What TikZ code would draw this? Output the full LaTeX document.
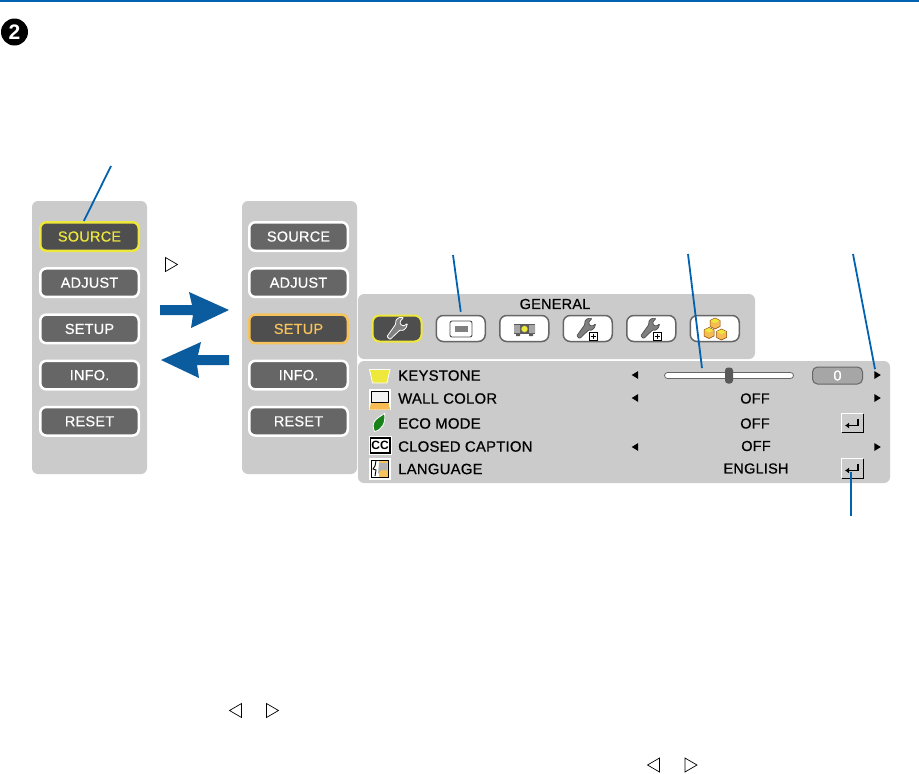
\documentclass[tikz,border=0pt]{standalone}
\usepackage{fontspec}
\setmainfont{Liberation Sans}
\newfontfamily\osdfont{Liberation Sans}[UprightFeatures={FakeBold=0.6},LetterSpace=1.5]
\usetikzlibrary{arrows.meta,positioning,shapes.geometric}
\definecolor{rule}{HTML}{0062B0}
\definecolor{bigarrow}{HTML}{0A5C9E}
\definecolor{panel}{HTML}{CBCBCB}
\definecolor{btn}{HTML}{666666}
\definecolor{btnact}{HTML}{4E4E4E}
\definecolor{hiyellow}{HTML}{EFE83C}
\definecolor{hiorange}{HTML}{F5C25C}

\begin{document}
\begin{tikzpicture}[
        x=1pt, y=-1pt,
        every node/.style={font=\fontsize{14.5}{16}\selectfont\osdfont},
        backplate/.style={fill=panel, rounded corners=6pt},
        menubtn/.style={draw=white, line width=2.5pt, fill=btn, text=white, rounded corners=6pt,
                      minimum width=98.5pt, minimum height=28.5pt, inner sep=0pt},
        tabbtn/.style={draw=btn, line width=1.5pt, fill=white, rounded corners=7pt,
                      minimum width=49pt, minimum height=26pt, inner sep=0pt},
        rowlabel/.style={anchor=west, inner sep=0pt, text=black, font=\fontsize{14.9}{16}\selectfont\osdfont},
        rowvalue/.style={inner sep=0pt, text=black},
        leader/.style={rule, line width=1.8pt},
        blockarr/.style={fill=bigarrow},
        hinttri/.style={isosceles triangle, isosceles triangle apex angle=65, isosceles triangle stretches,
                      draw=black, line width=0.7pt, fill=white, inner sep=0pt, minimum width=14pt, minimum height=12pt},
        stepr/.style={isosceles triangle, isosceles triangle apex angle=70, isosceles triangle stretches,
                      fill=black, inner sep=0pt, minimum width=8pt, minimum height=6.5pt},
        stepl/.style={stepr, shape border rotate=180},
        enterbtn/.style={fill=panel, minimum width=21pt, minimum height=18pt, inner sep=0pt},
        pics/wrench/.style={code={
            \path[pic actions, rounded corners=0.8pt] (-10,8) -- (-7,11) -- (3,1.5) -- (6,2) -- (9,-0.5)
                -- (10.5,-5) -- (6.5,-2.5) -- (3.5,-4) -- (3,-7) -- (6.5,-11) -- (2,-11)
                -- (-1,-8.5) -- (-1.5,-4) -- cycle;
        }},
        pics/cube/.style={code={
            \fill[draw=black!45!orange, line width=0.5pt, fill=hiorange!90!orange]
                (0,-5.5) -- (5,-3) -- (5,3) -- (0,5.5) -- (-5,3) -- (-5,-3) -- cycle;
            \fill[hiyellow] (0,-5) -- (4.5,-2.8) -- (0,-0.3) -- (-4.5,-2.8) -- cycle;
        }},
        pics/addbox/.style={code={
            \draw[black, fill=white, line width=0.8pt] (-4,-4) rectangle (4,4);
            \draw[black, line width=0.7pt] (-2.5,0) -- (2.5,0) (0,-2.5) -- (0,2.5);
        }}
    ]
        \useasboundingbox (0,0) rectangle (919,774);
        \fill[rule] (0,0) rectangle (919,2);

        \node[circle, fill=black, text=white, minimum size=27pt, inner sep=0pt,
              font=\fontsize{21}{21}\selectfont\bfseries] (badge) at (14.5,32) {2};

        % the two column menus
        \fill[backplate] (32,201) rectangle (147,474);
        \fill[backplate] (242,201) rectangle (357,474);

        \node[menubtn, draw=hiyellow, fill=btnact, text=hiyellow] (srcL) at (89.5,236.5) {SOURCE};
        \node[menubtn, below=15.2pt of srcL] (adjL) {ADJUST};
        \node[menubtn, below=15.2pt of adjL] (setL) {SETUP};
        \node[menubtn, below=15.2pt of setL] (infoL) {INFO.};
        \node[menubtn, below=15.2pt of infoL] (resetL) {RESET};

        \node[menubtn] (srcR) at (298.5,236.5) {SOURCE};
        \node[menubtn, below=15.2pt of srcR] (adjR) {ADJUST};
        \node[menubtn, draw=hiorange, fill=btnact, text=hiorange, below=15.2pt of adjR] (setR) {SETUP};
        \node[menubtn, below=15.2pt of setR] (infoR) {INFO.};
        \node[menubtn, below=15.2pt of infoR] (resetR) {RESET};

        % block arrows
        \fill[blockarr] (160,305) -- (192,305) -- (189,292) -- (229,310) -- (191,328) -- (193,315) -- (160,315) -- cycle;
        \fill[blockarr] (229,355) -- (198,355) -- (201,342) -- (161,360) -- (199,378) -- (197,365) -- (229,365) -- cycle;

        % tab strip
        \fill[backplate] (358,294) rectangle (755,359);
        \node[inner sep=0pt, text=black] (general) at (555,304) {GENERAL};
        \node[tabbtn, draw=hiyellow, fill=btnact, line width=2pt] (tabA) at (397,328.5) {};
        \node[tabbtn, right=13pt of tabA] (tabB) {};
        \node[tabbtn, right=13pt of tabB] (tabC) {};
        \node[tabbtn, right=13pt of tabC] (tabD) {};
        \node[tabbtn, right=13pt of tabD] (tabE) {};
        \node[tabbtn, right=13pt of tabE] (tabF) {};

        \pic[fill=gray, draw=white, line width=0.8pt] at (397,328.5) {wrench};
        \draw[black!70, fill=white, line width=0.9pt, rounded corners=2pt] (450,321) rectangle (472,337);
        \fill[gray] (455,326) rectangle (468,332);
        \fill[black!65] (514,324) rectangle (535,334);
        \fill[black!65] (516,334) rectangle (520,336) (529,334) rectangle (533,336);
        \fill[gray!70] (514,325) rectangle (520,333) (529,325) rectangle (535,333);
        \draw[black!60, fill=hiyellow, line width=0.5pt] (524.5,329) circle (3.5);
        \pic[scale=0.92, fill=gray, draw=black!70, line width=0.7pt] at (586,328.5) {wrench};
        \pic at (593,336) {addbox};
        \pic[scale=0.92, fill=gray, draw=black!70, line width=0.7pt] at (650,328.5) {wrench};
        \pic at (657,336) {addbox};
        \pic at (715,323.5) {cube};
        \pic at (709,333) {cube};
        \pic at (721.5,334.5) {cube};

        % settings list
        \fill[backplate] (358,361) rectangle (890,483);
        \node[rowlabel] (kst) at (398,375.5) {KEYSTONE};
        \node[rowlabel] (wall) at (398,398.5) {WALL COLOR};
        \node[rowlabel] (eco) at (398,423.5) {ECO MODE};
        \node[rowlabel] (cap) at (398,446.5) {CLOSED CAPTION};
        \node[rowlabel] (lang) at (398,469) {LANGUAGE};

        \node[rowvalue] (wallv) at (755,398.5) {OFF};
        \node[rowvalue] (ecov) at (755,423.5) {OFF};
        \node[rowvalue] (capv) at (756,446) {OFF};
        \node[rowvalue] (langv) at (756,468.5) {ENGLISH};

        \node[stepl] (kstL) at (636,375) {};
        \node[stepl] (wallL) at (636,398) {};
        \node[stepl] (capL) at (636,447) {};
        \node[stepr] (kstR) at (876.5,375) {};
        \node[stepr] (wallR) at (876.5,398) {};
        \node[stepr] (capR) at (876.5,447) {};

        % slider and its value
        \node[draw=black!60, fill=white, line width=0.8pt, rounded corners=3pt, inner sep=0pt,
              minimum width=129pt, minimum height=6pt] (slider) at (729,375.5) {};
        \node[fill=black!65, rounded corners=3pt, inner sep=0pt,
              minimum width=8pt, minimum height=16pt] (knob) at (729,375.5) {};
        \node[draw=black!60, fill=black!35, text=white, line width=1pt, rounded corners=5pt, inner sep=0pt,
              minimum width=50pt, minimum height=17pt] (kstv) at (837.5,375.5) {0};

        % enter keys
        \node[enterbtn] (enterA) at (852.5,423) {};
        \node[enterbtn, minimum height=19pt] (enterB) at (852.5,468.5) {};
        \draw[white, line width=1pt] (enterA.south west) -- (enterA.north west) -- (enterA.north east);
        \draw[black, line width=1pt] (enterA.north east) -- (enterA.south east) -- (enterA.south west);
        \draw[white, line width=1pt] (enterB.south west) -- (enterB.north west) -- (enterB.north east);
        \draw[black, line width=1pt] (enterB.north east) -- (enterB.south east) -- (enterB.south west);
        \draw[black, line width=1.4pt, -{Latex[length=4pt,width=6pt]}] (858,419) -- (858,425.5) -- (845,425.5);
        \draw[black, line width=1.4pt, -{Latex[length=4pt,width=6pt]}] (858,464) -- (858,470.5) -- (845,470.5);

        % row icons
        \draw[white, fill=hiyellow, line width=0.8pt] (369.5,369.5) -- (390,369.5) -- (387,383) -- (372.5,383) -- cycle;

        \fill[white] (369,389) rectangle (390.5,410);
        \draw[black, fill=white!95!black, line width=0.9pt] (371,391) rectangle (388.5,402.5);
        \fill[hiorange!90!orange] (371,403) -- (388.5,403) -- (390,409.5) -- (369.5,409.5) -- cycle;

        \draw[white, fill=green!45!black!90, line width=0.8pt] (374.5,431.5) .. controls (370,421) and (378,418) .. (384.5,413.5)
            .. controls (386,423) and (382,430) .. cycle;

        \node[draw=white, fill=black, minimum width=22pt, minimum height=18pt, inner sep=0pt, line width=0.5pt] (ccbox) at (380,445.5) {};
        \node[fill=white, text=black, minimum width=18pt, minimum height=13pt, inner sep=0pt,
              font=\fontsize{12}{12}\selectfont\bfseries] (cctext) at (380,445.5) {CC};

        \fill[white] (369,458) rectangle (390.5,480);
        \fill[black] (371,460) rectangle (388.5,478);
        \fill[white] (372,461) rectangle (379,477);
        \fill[hiorange] (379,461) rectangle (388,477);
        \fill[gray!60] (379,463) -- (387,463) -- (387,470) -- (381,470) -- (378,474) -- cycle;
        \draw[black, line width=0.9pt] (376,461) -- (375,466) -- (373,469) -- (376,470) -- (375,476);

        % hint triangles
        \node[hinttri] (hintA) at (169.5,264.5) {};
        \node[hinttri, shape border rotate=180] (hintB) at (237.5,710.5) {};
        \node[hinttri] (hintC) at (270.5,710.5) {};
        \node[hinttri, shape border rotate=180] (hintD) at (655.5,765) {};
        \node[hinttri] (hintE) at (689,765) {};

        % leader lines
        \coordinate (ldrA) at (111,166);
        \coordinate (ldrB) at (453,255);
        \coordinate (ldrC) at (688,254);
        \coordinate (ldrD) at (853,254);
        \coordinate (ldrE) at (851,516);
        \draw[leader] (ldrA) -- (srcL.110);
        \draw[leader] (ldrB) -- ([yshift=3pt]tabB.north);
        \draw[leader] (ldrC) -- ([xshift=-27pt,yshift=4pt]slider.north);
        \draw[leader] (ldrD) -- ([xshift=-1.5pt,yshift=3pt]kstR.north);
        \draw[leader] (ldrE) -- ([xshift=-1.5pt,yshift=6pt]enterB.south);
    \end{tikzpicture}
\end{document}
